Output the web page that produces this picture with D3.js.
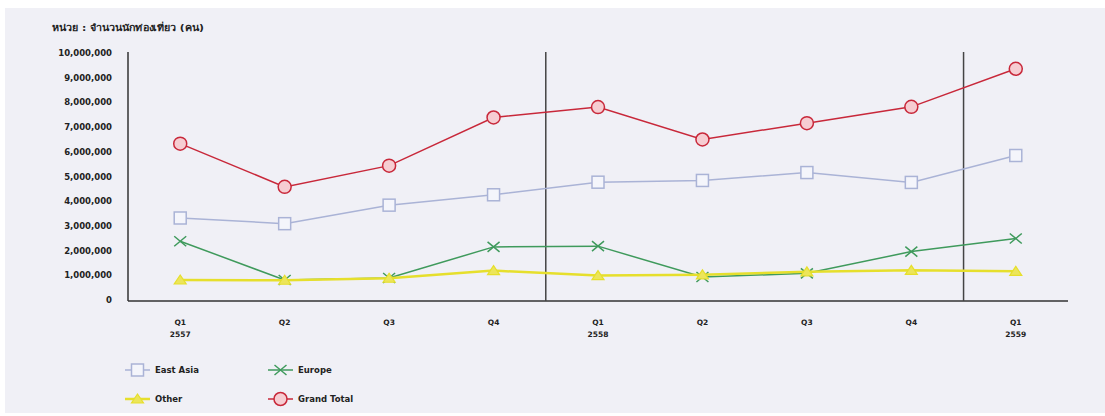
<!DOCTYPE html>
<html>
<head>
<meta charset="utf-8">
<script src="https://cdn.jsdelivr.net/npm/d3@7/dist/d3.min.js"></script>
<style>
  body { margin: 0; background: #ffffff; }
  svg { display: block; font-family: "DejaVu Sans", "Liberation Sans", sans-serif; }
</style>
</head>
<body>
<div id="chart"></div>
<script>
// quarters along the x axis (second line = year)
const quarters = ["Q1|2557", "Q2", "Q3", "Q4", "Q1|2558", "Q2 ", "Q3 ", "Q4 ", "Q1|2559"];
const yTicks = [0, 1e6, 2e6, 3e6, 4e6, 5e6, 6e6, 7e6, 8e6, 9e6, 10e6];

const eastAsia   = [3320000, 3090000, 3840000, 4260000, 4770000, 4840000, 5160000, 4760000, 5850000];
const europe     = [2380000, 810000, 890000, 2150000, 2180000, 930000, 1080000, 1960000, 2490000];
const other      = [810000, 800000, 880000, 1190000, 990000, 1020000, 1140000, 1200000, 1160000];
const grandTotal = [6330000, 4580000, 5440000, 7390000, 7810000, 6500000, 7160000, 7820000, 9360000];

const width = 1105, height = 416;
const margin = { left: 128, right: 37, top: 53, bottom: 116 };

const svg = d3.select("#chart").append("svg")
  .attr("width", width)
  .attr("height", height);

// light panel behind everything
svg.append("rect")
  .attr("x", 5).attr("y", 8)
  .attr("width", width - 5).attr("height", 405)
  .attr("fill", "#f0f0f6");

const x = d3.scaleBand()
  .domain(quarters)
  .range([margin.left, width - margin.right]);

const y = d3.scaleLinear()
  .domain([0, 10e6])
  .range([height - margin.bottom, margin.top]);

const cx = d => x(d) + x.bandwidth() / 2;

// title
svg.append("text")
  .attr("x", 52).attr("y", 31)
  .attr("textLength", 152)
  .attr("lengthAdjust", "spacingAndGlyphs")
  .style("font-size", "9px")
  .style("font-weight", "bold")
  .attr("fill", "#222")
  .text("หน่วย : จำนวนนักท่องเที่ยว (คน)");

// y axis labels
svg.append("g")
  .selectAll("text")
  .data(yTicks)
  .join("text")
  .attr("x", 112)
  .attr("y", d => y(d) + 3)
  .attr("text-anchor", "end")
  .style("font-size", "8.5px")
  .style("font-weight", "bold")
  .attr("fill", "#222")
  .text(d => d3.format(",")(d));

// axis lines
svg.append("line")
  .attr("x1", margin.left).attr("x2", margin.left)
  .attr("y1", y(10e6) - 1).attr("y2", y(0) + 1)
  .attr("stroke", "#333").attr("stroke-width", 1.5);
svg.append("line")
  .attr("x1", margin.left).attr("x2", width - margin.right)
  .attr("y1", y(0) + 1).attr("y2", y(0) + 1)
  .attr("stroke", "#333").attr("stroke-width", 1.5);

// year separators
[quarters[4], quarters[8]].forEach(q => {
  svg.append("line")
    .attr("x1", x(q)).attr("x2", x(q))
    .attr("y1", y(10e6) - 1).attr("y2", y(0) + 1)
    .attr("stroke", "#444").attr("stroke-width", 1.5);
});

// x labels
const xl = svg.append("g")
  .selectAll("text")
  .data(quarters)
  .join("text")
  .attr("x", d => cx(d))
  .attr("y", y(0) + 25)
  .attr("text-anchor", "middle")
  .style("font-size", "7.5px")
  .style("font-weight", "bold")
  .attr("fill", "#222");
xl.selectAll("tspan")
  .data(d => d.trim().split("|").map(t => ({ t, q: d })))
  .join("tspan")
  .attr("x", d => cx(d.q))
  .attr("dy", (d, i) => i ? 12 : 0)
  .text(d => d.t);

const series = [
  { name: "East Asia", values: eastAsia, stroke: "#aab3d6", fill: "#f4f5fb", mark: "square" },
  { name: "Europe", values: europe, stroke: "#3f9a5c", fill: "none", mark: "cross" },
  { name: "Other", values: other, stroke: "#e6df2c", fill: "#ece55a", mark: "triangle", width: 2.5 },
  { name: "Grand Total", values: grandTotal, stroke: "#c8283a", fill: "#f6cdd2", mark: "circle" }
];

function drawMark(g, s, px, py) {
  if (s.mark === "square") {
    g.append("rect").attr("x", px - 6).attr("y", py - 6).attr("width", 12).attr("height", 12)
      .attr("fill", s.fill).attr("stroke", s.stroke).attr("stroke-width", 1.5);
  } else if (s.mark === "cross") {
    g.append("path").attr("d", `M${px - 6},${py - 5}L${px + 6},${py + 5}M${px - 6},${py + 5}L${px + 6},${py - 5}`)
      .attr("stroke", s.stroke).attr("stroke-width", 1.5);
  } else if (s.mark === "triangle") {
    g.append("path").attr("d", `M${px},${py - 5}L${px + 6},${py + 4}L${px - 6},${py + 4}Z`)
      .attr("fill", s.fill).attr("stroke", s.stroke).attr("stroke-width", 1.2);
  } else {
    g.append("circle").attr("cx", px).attr("cy", py).attr("r", 6.5)
      .attr("fill", s.fill).attr("stroke", s.stroke).attr("stroke-width", 1.5);
  }
}

const line = d3.line().x((d, i) => cx(quarters[i])).y(d => y(d));

series.forEach(s => {
  const g = svg.append("g");
  g.append("path")
    .attr("d", line(s.values))
    .attr("fill", "none")
    .attr("stroke", s.stroke)
    .attr("stroke-width", s.width || 1.5);
  s.values.forEach((v, i) => drawMark(g, s, cx(quarters[i]), y(v)));
});

// legend (two columns, two rows)
const legendPos = [[125, 370], [268, 370], [125, 399], [268, 399]];
series.forEach((s, i) => {
  const [lx, ly] = legendPos[i];
  const g = svg.append("g");
  g.append("line").attr("x1", lx).attr("x2", lx + 25).attr("y1", ly).attr("y2", ly)
    .attr("stroke", s.stroke).attr("stroke-width", s.width || 1.5);
  drawMark(g, s, lx + 12.5, ly);
  g.append("text")
    .attr("x", lx + 30).attr("y", ly + 3)
    .style("font-size", "8.5px")
    .style("font-weight", "bold")
    .attr("fill", "#222")
    .text(s.name);
});
</script>
</body>
</html>
